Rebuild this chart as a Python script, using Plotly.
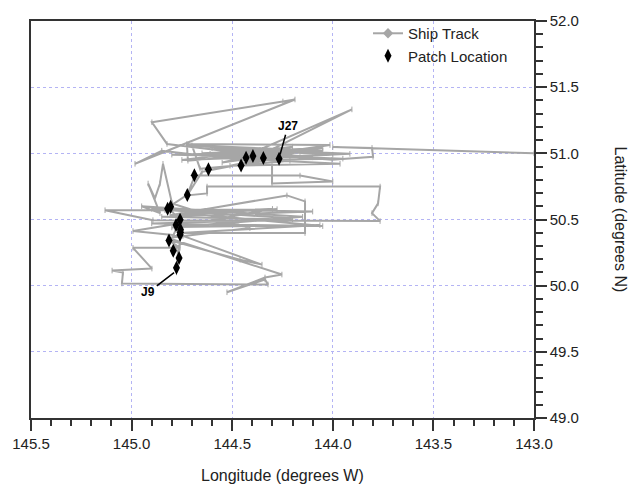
import plotly.graph_objects as go

# Ship track (longitude in degrees W, latitude in degrees N)
track_lon = [
    143.000, 144.000, 143.805, 143.800, 144.004, 144.262, 144.725, 144.014, 144.312, 144.720,
    144.725, 144.362, 143.915, 144.461, 143.964, 144.511, 144.163, 144.610, 144.213, 144.660,
    144.70, 144.05, 144.80, 144.10, 144.60, 144.00, 144.75, 144.20, 144.55, 144.05,
    144.65, 143.95, 144.45, 144.85,
    144.983, 144.188, 144.248, 144.899, 144.824, 144.412,
    143.905, 144.446, 144.302, 144.302, 144.000, 144.163, 144.685,
    144.725, 144.625, 144.625, 143.765, 143.775, 143.805, 143.765, 144.894, 145.132,
    144.834, 144.277, 144.809, 144.228, 144.138, 144.138, 144.759, 144.064, 144.784, 144.213,
    144.90, 144.10, 144.85, 144.20, 144.90, 144.05, 144.75, 144.30, 144.80, 144.15, 144.95,
    144.859, 144.918, 144.884, 144.859, 144.844, 144.799, 144.412, 144.819,
    144.253, 144.337, 144.526, 144.337, 144.322, 145.048, 145.043, 145.097, 144.899,
    144.993, 144.759, 144.819, 144.461, 144.352, 144.745, 144.993, 144.750,
    144.777, 144.770, 144.800, 144.760, 144.820, 144.720, 144.650, 144.450, 144.270,
]
track_lat = [
    51.000, 51.048, 51.041, 50.974, 50.951, 50.981, 51.071, 51.063, 50.996, 50.944,
    51.063, 51.026, 50.996, 50.959, 50.921, 50.906, 51.011, 50.996, 50.944, 50.884,
    51.06, 51.02, 50.99, 50.97, 51.04, 50.99, 50.95, 51.05, 50.93, 51.04,
    51.00, 50.96, 50.95, 51.02,
    50.921, 51.407, 51.392, 51.235, 51.071, 50.996,
    51.332, 50.921, 50.959, 50.772, 50.787, 50.832, 50.832,
    50.682, 50.697, 50.749, 50.749, 50.622, 50.548, 50.488, 50.495, 50.570,
    50.570, 50.578, 50.533, 50.682, 50.637, 50.398, 50.398, 50.458, 50.443, 50.510,
    50.58, 50.56, 50.52, 50.50, 50.47, 50.45, 50.55, 50.58, 50.44, 50.52, 50.60,
    50.548, 50.772, 50.660, 50.772, 50.921, 50.622, 50.435, 50.361,
    50.084, 50.062, 49.950, 50.047, 50.009, 50.017, 50.099, 50.114, 50.129,
    50.286, 50.286, 50.346, 50.196, 50.159, 50.376, 50.413, 50.473,
    50.100, 50.250, 50.350, 50.500, 50.590, 50.690, 50.860, 50.920, 50.960,
]

# Patch locations (J9 ... J27)
patch_lon = [144.777, 144.764, 144.793, 144.814, 144.759, 144.757, 144.758, 144.779, 144.759,
             144.821, 144.806, 144.723, 144.688, 144.618, 144.456, 144.431, 144.397, 144.345, 144.267]
patch_lat = [50.136, 50.209, 50.263, 50.342, 50.385, 50.423, 50.404, 50.458, 50.499,
             50.581, 50.596, 50.686, 50.835, 50.880, 50.909, 50.966, 50.979, 50.965, 50.959]

labels = ["J9", "J27"]
label_lon = [144.917, 144.223]
label_lat = [49.949, 51.205]
label_tip_lon = [144.789, 144.262]
label_tip_lat = [50.099, 50.991]

x_ticks = [145.5, 145.0, 144.5, 144.0, 143.5, 143.0]
y_ticks = [49.0, 49.5, 50.0, 50.5, 51.0, 51.5, 52.0]

TRACK = "#a6a6a6"
AX = "#333333"
GRID = "#b4b4f4"
FONT = "Liberation Sans, Arial, sans-serif"

fig = go.Figure()
fig.add_trace(go.Scatter(
    x=track_lon, y=track_lat, mode="lines+markers",
    line=dict(color=TRACK, width=2),
    marker=dict(symbol="line-ns-open", size=4, color=TRACK, line=dict(color=TRACK, width=1)),
    showlegend=False, hoverinfo="skip"))
fig.add_trace(go.Scatter(
    x=[None], y=[None], mode="lines+markers", name="Ship Track",
    line=dict(color=TRACK, width=2),
    marker=dict(symbol="diamond", size=8, color=TRACK)))
fig.add_trace(go.Scatter(
    x=patch_lon, y=patch_lat, mode="markers", name="Patch Location",
    marker=dict(symbol="diamond-tall", size=10, color="black")))

for t, lx, ly, tx, ty in zip(labels, label_lon, label_lat, label_tip_lon, label_tip_lat):
    fig.add_annotation(x=tx, y=ty, ax=lx, ay=ly, xref="x", yref="y", axref="x", ayref="y",
                       text="<b>%s</b>" % t, showarrow=True, arrowhead=0, arrowwidth=1.5,
                       arrowcolor="black", font=dict(size=12, color="black", family=FONT))

fig.add_annotation(text="Longitude (degrees W)", xref="paper", yref="paper", x=0.5, y=-0.145,
                   xanchor="center", yanchor="middle", showarrow=False,
                   font=dict(size=16, color="#222", family=FONT))
fig.add_annotation(text="Latitude (degrees N)", xref="paper", yref="paper", x=1.171, y=0.5,
                   xanchor="center", yanchor="middle", showarrow=False, textangle=90,
                   font=dict(size=16, color="#222", family=FONT))

fig.update_layout(
    width=632, height=485,
    margin=dict(l=31, r=98, t=16, b=67),
    paper_bgcolor="white", plot_bgcolor="white",
    font=dict(family=FONT, size=15, color="#222"),
    legend=dict(x=0.67, y=1.01, xanchor="left", yanchor="top", bgcolor="rgba(0,0,0,0)",
                font=dict(size=15, color="#222"), tracegroupgap=0),
    xaxis=dict(range=[145.5, 143.0], tickvals=x_ticks, ticktext=["%.1f" % v for v in x_ticks],
               ticks="outside", ticklen=11, tickwidth=1.5, tickcolor=AX,
               showline=True, linecolor=AX, linewidth=1.5, mirror=True,
               showgrid=True, gridcolor=GRID, griddash="dot", gridwidth=1, zeroline=False,
               minor=dict(dtick=0.1, ticks="outside", ticklen=6, tickwidth=1.5, tickcolor=AX, showgrid=False)),
    yaxis=dict(range=[49.0, 52.0], side="right", tickvals=y_ticks, ticktext=["%.1f" % v for v in y_ticks],
               ticks="outside", ticklen=11, tickwidth=1.5, tickcolor=AX,
               showline=True, linecolor=AX, linewidth=1.5, mirror=True,
               showgrid=True, gridcolor=GRID, griddash="dot", gridwidth=1, zeroline=False,
               minor=dict(dtick=0.1, ticks="outside", ticklen=7, tickwidth=1.5, tickcolor=AX, showgrid=False)),
)

fig.write_html("out.html", config={"displayModeBar": False},
               post_script="document.body.style.margin='0px';")
